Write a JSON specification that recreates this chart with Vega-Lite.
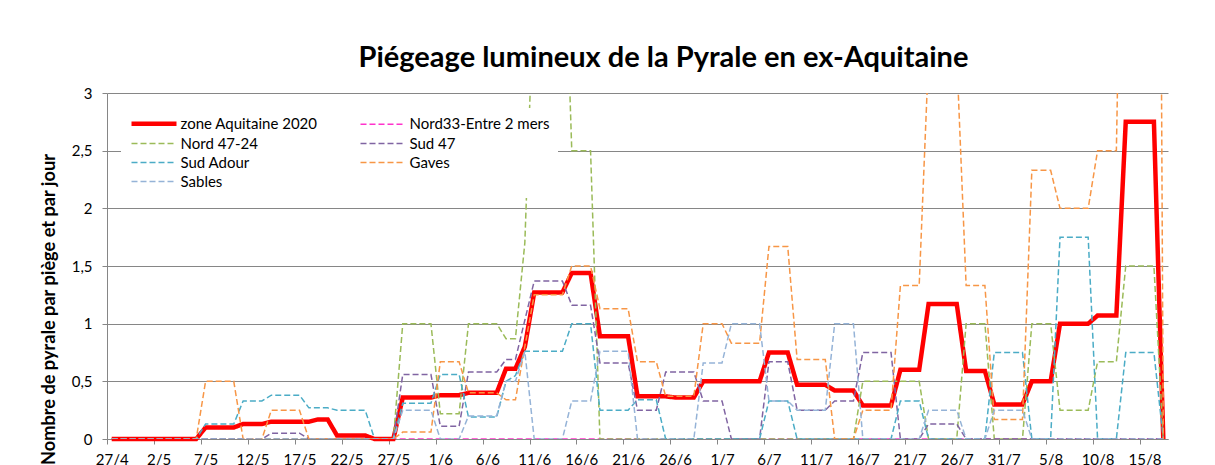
{
  "$schema": "https://vega.github.io/schema/vega-lite/v6.json",
  "width": 1061,
  "height": 346,
  "autosize": {"type": "none"},
  "padding": {"left": 107, "top": 93, "right": 47, "bottom": 26},
  "background": "white",
  "title": {"text": "Piégeage lumineux de la Pyrale en ex-Aquitaine", "font": "Lato", "fontSize": 29, "fontWeight": "bold", "color": "#000000", "anchor": "middle", "dx": 26, "offset": 13},
  "config": {
    "view": {"stroke": null},
    "font": "Lato",
    "axis": {"labelFont": "Lato", "labelFontSize": 15, "labelColor": "#000000", "domainColor": "#868686", "tickColor": "#868686", "gridColor": "#868686", "gridOpacity": 1}
  },
  "data": {"values": [
    {"serie": "zone Aquitaine 2020", "date": "2020-04-27", "val": 0},
    {"serie": "zone Aquitaine 2020", "date": "2020-05-06", "val": 0},
    {"serie": "zone Aquitaine 2020", "date": "2020-05-07", "val": 0.1},
    {"serie": "zone Aquitaine 2020", "date": "2020-05-10", "val": 0.1},
    {"serie": "zone Aquitaine 2020", "date": "2020-05-11", "val": 0.13},
    {"serie": "zone Aquitaine 2020", "date": "2020-05-13", "val": 0.13},
    {"serie": "zone Aquitaine 2020", "date": "2020-05-14", "val": 0.15},
    {"serie": "zone Aquitaine 2020", "date": "2020-05-18", "val": 0.15},
    {"serie": "zone Aquitaine 2020", "date": "2020-05-19", "val": 0.17},
    {"serie": "zone Aquitaine 2020", "date": "2020-05-20", "val": 0.17},
    {"serie": "zone Aquitaine 2020", "date": "2020-05-21", "val": 0.03},
    {"serie": "zone Aquitaine 2020", "date": "2020-05-24", "val": 0.03},
    {"serie": "zone Aquitaine 2020", "date": "2020-05-25", "val": 0},
    {"serie": "zone Aquitaine 2020", "date": "2020-05-27", "val": 0},
    {"serie": "zone Aquitaine 2020", "date": "2020-05-28", "val": 0.36},
    {"serie": "zone Aquitaine 2020", "date": "2020-05-31", "val": 0.36},
    {"serie": "zone Aquitaine 2020", "date": "2020-06-01", "val": 0.38},
    {"serie": "zone Aquitaine 2020", "date": "2020-06-03", "val": 0.38},
    {"serie": "zone Aquitaine 2020", "date": "2020-06-04", "val": 0.4},
    {"serie": "zone Aquitaine 2020", "date": "2020-06-07", "val": 0.4},
    {"serie": "zone Aquitaine 2020", "date": "2020-06-08", "val": 0.61},
    {"serie": "zone Aquitaine 2020", "date": "2020-06-09", "val": 0.61},
    {"serie": "zone Aquitaine 2020", "date": "2020-06-10", "val": 0.8},
    {"serie": "zone Aquitaine 2020", "date": "2020-06-11", "val": 1.27},
    {"serie": "zone Aquitaine 2020", "date": "2020-06-14", "val": 1.27},
    {"serie": "zone Aquitaine 2020", "date": "2020-06-15", "val": 1.44},
    {"serie": "zone Aquitaine 2020", "date": "2020-06-17", "val": 1.44},
    {"serie": "zone Aquitaine 2020", "date": "2020-06-18", "val": 0.89},
    {"serie": "zone Aquitaine 2020", "date": "2020-06-21", "val": 0.89},
    {"serie": "zone Aquitaine 2020", "date": "2020-06-22", "val": 0.37},
    {"serie": "zone Aquitaine 2020", "date": "2020-06-25", "val": 0.37},
    {"serie": "zone Aquitaine 2020", "date": "2020-06-26", "val": 0.36},
    {"serie": "zone Aquitaine 2020", "date": "2020-06-28", "val": 0.36},
    {"serie": "zone Aquitaine 2020", "date": "2020-06-29", "val": 0.5},
    {"serie": "zone Aquitaine 2020", "date": "2020-07-05", "val": 0.5},
    {"serie": "zone Aquitaine 2020", "date": "2020-07-06", "val": 0.75},
    {"serie": "zone Aquitaine 2020", "date": "2020-07-08", "val": 0.75},
    {"serie": "zone Aquitaine 2020", "date": "2020-07-09", "val": 0.47},
    {"serie": "zone Aquitaine 2020", "date": "2020-07-12", "val": 0.47},
    {"serie": "zone Aquitaine 2020", "date": "2020-07-13", "val": 0.42},
    {"serie": "zone Aquitaine 2020", "date": "2020-07-15", "val": 0.42},
    {"serie": "zone Aquitaine 2020", "date": "2020-07-16", "val": 0.29},
    {"serie": "zone Aquitaine 2020", "date": "2020-07-19", "val": 0.29},
    {"serie": "zone Aquitaine 2020", "date": "2020-07-20", "val": 0.6},
    {"serie": "zone Aquitaine 2020", "date": "2020-07-22", "val": 0.6},
    {"serie": "zone Aquitaine 2020", "date": "2020-07-23", "val": 1.17},
    {"serie": "zone Aquitaine 2020", "date": "2020-07-26", "val": 1.17},
    {"serie": "zone Aquitaine 2020", "date": "2020-07-27", "val": 0.59},
    {"serie": "zone Aquitaine 2020", "date": "2020-07-29", "val": 0.59},
    {"serie": "zone Aquitaine 2020", "date": "2020-07-30", "val": 0.3},
    {"serie": "zone Aquitaine 2020", "date": "2020-08-02", "val": 0.3},
    {"serie": "zone Aquitaine 2020", "date": "2020-08-03", "val": 0.5},
    {"serie": "zone Aquitaine 2020", "date": "2020-08-05", "val": 0.5},
    {"serie": "zone Aquitaine 2020", "date": "2020-08-06", "val": 1},
    {"serie": "zone Aquitaine 2020", "date": "2020-08-09", "val": 1},
    {"serie": "zone Aquitaine 2020", "date": "2020-08-10", "val": 1.07},
    {"serie": "zone Aquitaine 2020", "date": "2020-08-12", "val": 1.07},
    {"serie": "zone Aquitaine 2020", "date": "2020-08-13", "val": 2.75},
    {"serie": "zone Aquitaine 2020", "date": "2020-08-16", "val": 2.75},
    {"serie": "zone Aquitaine 2020", "date": "2020-08-17", "val": 0},

    {"serie": "Nord33-Entre 2 mers", "date": "2020-04-27", "val": 0},
    {"serie": "Nord33-Entre 2 mers", "date": "2020-08-17", "val": 0},

    {"serie": "Nord 47-24", "date": "2020-04-27", "val": 0},
    {"serie": "Nord 47-24", "date": "2020-05-27", "val": 0},
    {"serie": "Nord 47-24", "date": "2020-05-28", "val": 1},
    {"serie": "Nord 47-24", "date": "2020-05-31", "val": 1},
    {"serie": "Nord 47-24", "date": "2020-06-01", "val": 0.22},
    {"serie": "Nord 47-24", "date": "2020-06-03", "val": 0.22},
    {"serie": "Nord 47-24", "date": "2020-06-04", "val": 1},
    {"serie": "Nord 47-24", "date": "2020-06-07", "val": 1},
    {"serie": "Nord 47-24", "date": "2020-06-08", "val": 0.87},
    {"serie": "Nord 47-24", "date": "2020-06-09", "val": 0.87},
    {"serie": "Nord 47-24", "date": "2020-06-10", "val": 1.7},
    {"serie": "Nord 47-24", "date": "2020-06-11", "val": 4},
    {"serie": "Nord 47-24", "date": "2020-06-14", "val": 5},
    {"serie": "Nord 47-24", "date": "2020-06-15", "val": 2.5},
    {"serie": "Nord 47-24", "date": "2020-06-17", "val": 2.5},
    {"serie": "Nord 47-24", "date": "2020-06-18", "val": 0},
    {"serie": "Nord 47-24", "date": "2020-07-15", "val": 0},
    {"serie": "Nord 47-24", "date": "2020-07-16", "val": 0.5},
    {"serie": "Nord 47-24", "date": "2020-07-22", "val": 0.5},
    {"serie": "Nord 47-24", "date": "2020-07-23", "val": 0},
    {"serie": "Nord 47-24", "date": "2020-07-26", "val": 0},
    {"serie": "Nord 47-24", "date": "2020-07-27", "val": 1},
    {"serie": "Nord 47-24", "date": "2020-07-29", "val": 1},
    {"serie": "Nord 47-24", "date": "2020-07-30", "val": 0},
    {"serie": "Nord 47-24", "date": "2020-08-02", "val": 0},
    {"serie": "Nord 47-24", "date": "2020-08-03", "val": 1},
    {"serie": "Nord 47-24", "date": "2020-08-05", "val": 1},
    {"serie": "Nord 47-24", "date": "2020-08-06", "val": 0.25},
    {"serie": "Nord 47-24", "date": "2020-08-09", "val": 0.25},
    {"serie": "Nord 47-24", "date": "2020-08-10", "val": 0.67},
    {"serie": "Nord 47-24", "date": "2020-08-12", "val": 0.67},
    {"serie": "Nord 47-24", "date": "2020-08-13", "val": 1.5},
    {"serie": "Nord 47-24", "date": "2020-08-16", "val": 1.5},
    {"serie": "Nord 47-24", "date": "2020-08-17", "val": 0},

    {"serie": "Sud 47", "date": "2020-04-27", "val": 0},
    {"serie": "Sud 47", "date": "2020-05-13", "val": 0},
    {"serie": "Sud 47", "date": "2020-05-14", "val": 0.05},
    {"serie": "Sud 47", "date": "2020-05-17", "val": 0.05},
    {"serie": "Sud 47", "date": "2020-05-18", "val": 0},
    {"serie": "Sud 47", "date": "2020-05-27", "val": 0},
    {"serie": "Sud 47", "date": "2020-05-28", "val": 0.56},
    {"serie": "Sud 47", "date": "2020-05-31", "val": 0.56},
    {"serie": "Sud 47", "date": "2020-06-01", "val": 0.11},
    {"serie": "Sud 47", "date": "2020-06-03", "val": 0.11},
    {"serie": "Sud 47", "date": "2020-06-04", "val": 0.58},
    {"serie": "Sud 47", "date": "2020-06-07", "val": 0.58},
    {"serie": "Sud 47", "date": "2020-06-08", "val": 0.69},
    {"serie": "Sud 47", "date": "2020-06-09", "val": 0.69},
    {"serie": "Sud 47", "date": "2020-06-10", "val": 1.03},
    {"serie": "Sud 47", "date": "2020-06-11", "val": 1.37},
    {"serie": "Sud 47", "date": "2020-06-14", "val": 1.37},
    {"serie": "Sud 47", "date": "2020-06-15", "val": 1.16},
    {"serie": "Sud 47", "date": "2020-06-17", "val": 1.16},
    {"serie": "Sud 47", "date": "2020-06-18", "val": 0.66},
    {"serie": "Sud 47", "date": "2020-06-21", "val": 0.66},
    {"serie": "Sud 47", "date": "2020-06-22", "val": 0.25},
    {"serie": "Sud 47", "date": "2020-06-24", "val": 0.25},
    {"serie": "Sud 47", "date": "2020-06-25", "val": 0.58},
    {"serie": "Sud 47", "date": "2020-06-28", "val": 0.58},
    {"serie": "Sud 47", "date": "2020-06-29", "val": 0.33},
    {"serie": "Sud 47", "date": "2020-07-01", "val": 0.33},
    {"serie": "Sud 47", "date": "2020-07-02", "val": 0},
    {"serie": "Sud 47", "date": "2020-07-05", "val": 0},
    {"serie": "Sud 47", "date": "2020-07-06", "val": 0.67},
    {"serie": "Sud 47", "date": "2020-07-08", "val": 0.67},
    {"serie": "Sud 47", "date": "2020-07-09", "val": 0.25},
    {"serie": "Sud 47", "date": "2020-07-12", "val": 0.25},
    {"serie": "Sud 47", "date": "2020-07-13", "val": 0.33},
    {"serie": "Sud 47", "date": "2020-07-15", "val": 0.33},
    {"serie": "Sud 47", "date": "2020-07-16", "val": 0.75},
    {"serie": "Sud 47", "date": "2020-07-19", "val": 0.75},
    {"serie": "Sud 47", "date": "2020-07-20", "val": 0},
    {"serie": "Sud 47", "date": "2020-07-22", "val": 0},
    {"serie": "Sud 47", "date": "2020-07-23", "val": 0.13},
    {"serie": "Sud 47", "date": "2020-07-26", "val": 0.13},
    {"serie": "Sud 47", "date": "2020-07-27", "val": 0},
    {"serie": "Sud 47", "date": "2020-08-17", "val": 0},

    {"serie": "Sud Adour", "date": "2020-04-27", "val": 0},
    {"serie": "Sud Adour", "date": "2020-05-06", "val": 0},
    {"serie": "Sud Adour", "date": "2020-05-07", "val": 0.13},
    {"serie": "Sud Adour", "date": "2020-05-10", "val": 0.13},
    {"serie": "Sud Adour", "date": "2020-05-11", "val": 0.33},
    {"serie": "Sud Adour", "date": "2020-05-13", "val": 0.33},
    {"serie": "Sud Adour", "date": "2020-05-14", "val": 0.38},
    {"serie": "Sud Adour", "date": "2020-05-17", "val": 0.38},
    {"serie": "Sud Adour", "date": "2020-05-18", "val": 0.27},
    {"serie": "Sud Adour", "date": "2020-05-20", "val": 0.27},
    {"serie": "Sud Adour", "date": "2020-05-21", "val": 0.25},
    {"serie": "Sud Adour", "date": "2020-05-24", "val": 0.25},
    {"serie": "Sud Adour", "date": "2020-05-25", "val": 0},
    {"serie": "Sud Adour", "date": "2020-05-27", "val": 0},
    {"serie": "Sud Adour", "date": "2020-05-28", "val": 0.31},
    {"serie": "Sud Adour", "date": "2020-05-31", "val": 0.31},
    {"serie": "Sud Adour", "date": "2020-06-01", "val": 0.56},
    {"serie": "Sud Adour", "date": "2020-06-03", "val": 0.56},
    {"serie": "Sud Adour", "date": "2020-06-04", "val": 0.19},
    {"serie": "Sud Adour", "date": "2020-06-07", "val": 0.19},
    {"serie": "Sud Adour", "date": "2020-06-08", "val": 0.5},
    {"serie": "Sud Adour", "date": "2020-06-09", "val": 0.55},
    {"serie": "Sud Adour", "date": "2020-06-10", "val": 0.76},
    {"serie": "Sud Adour", "date": "2020-06-14", "val": 0.76},
    {"serie": "Sud Adour", "date": "2020-06-15", "val": 1},
    {"serie": "Sud Adour", "date": "2020-06-17", "val": 1},
    {"serie": "Sud Adour", "date": "2020-06-18", "val": 0.25},
    {"serie": "Sud Adour", "date": "2020-06-21", "val": 0.25},
    {"serie": "Sud Adour", "date": "2020-06-22", "val": 0.34},
    {"serie": "Sud Adour", "date": "2020-06-24", "val": 0.34},
    {"serie": "Sud Adour", "date": "2020-06-25", "val": 0},
    {"serie": "Sud Adour", "date": "2020-07-05", "val": 0},
    {"serie": "Sud Adour", "date": "2020-07-06", "val": 0.33},
    {"serie": "Sud Adour", "date": "2020-07-08", "val": 0.33},
    {"serie": "Sud Adour", "date": "2020-07-09", "val": 0},
    {"serie": "Sud Adour", "date": "2020-07-19", "val": 0},
    {"serie": "Sud Adour", "date": "2020-07-20", "val": 0.33},
    {"serie": "Sud Adour", "date": "2020-07-22", "val": 0.33},
    {"serie": "Sud Adour", "date": "2020-07-23", "val": 0},
    {"serie": "Sud Adour", "date": "2020-07-29", "val": 0},
    {"serie": "Sud Adour", "date": "2020-07-30", "val": 0.75},
    {"serie": "Sud Adour", "date": "2020-08-02", "val": 0.75},
    {"serie": "Sud Adour", "date": "2020-08-03", "val": 0},
    {"serie": "Sud Adour", "date": "2020-08-05", "val": 0},
    {"serie": "Sud Adour", "date": "2020-08-06", "val": 1.75},
    {"serie": "Sud Adour", "date": "2020-08-09", "val": 1.75},
    {"serie": "Sud Adour", "date": "2020-08-10", "val": 0},
    {"serie": "Sud Adour", "date": "2020-08-12", "val": 0},
    {"serie": "Sud Adour", "date": "2020-08-13", "val": 0.75},
    {"serie": "Sud Adour", "date": "2020-08-16", "val": 0.75},
    {"serie": "Sud Adour", "date": "2020-08-17", "val": 0},

    {"serie": "Gaves", "date": "2020-04-27", "val": 0},
    {"serie": "Gaves", "date": "2020-05-06", "val": 0},
    {"serie": "Gaves", "date": "2020-05-07", "val": 0.5},
    {"serie": "Gaves", "date": "2020-05-10", "val": 0.5},
    {"serie": "Gaves", "date": "2020-05-11", "val": 0},
    {"serie": "Gaves", "date": "2020-05-13", "val": 0},
    {"serie": "Gaves", "date": "2020-05-14", "val": 0.25},
    {"serie": "Gaves", "date": "2020-05-17", "val": 0.25},
    {"serie": "Gaves", "date": "2020-05-18", "val": 0},
    {"serie": "Gaves", "date": "2020-05-27", "val": 0},
    {"serie": "Gaves", "date": "2020-05-28", "val": 0.06},
    {"serie": "Gaves", "date": "2020-05-31", "val": 0.06},
    {"serie": "Gaves", "date": "2020-06-01", "val": 0.67},
    {"serie": "Gaves", "date": "2020-06-03", "val": 0.67},
    {"serie": "Gaves", "date": "2020-06-04", "val": 0.4},
    {"serie": "Gaves", "date": "2020-06-07", "val": 0.4},
    {"serie": "Gaves", "date": "2020-06-08", "val": 0.34},
    {"serie": "Gaves", "date": "2020-06-09", "val": 0.34},
    {"serie": "Gaves", "date": "2020-06-10", "val": 0.8},
    {"serie": "Gaves", "date": "2020-06-11", "val": 1.25},
    {"serie": "Gaves", "date": "2020-06-14", "val": 1.25},
    {"serie": "Gaves", "date": "2020-06-15", "val": 1.5},
    {"serie": "Gaves", "date": "2020-06-17", "val": 1.5},
    {"serie": "Gaves", "date": "2020-06-18", "val": 1.13},
    {"serie": "Gaves", "date": "2020-06-21", "val": 1.13},
    {"serie": "Gaves", "date": "2020-06-22", "val": 0.67},
    {"serie": "Gaves", "date": "2020-06-24", "val": 0.67},
    {"serie": "Gaves", "date": "2020-06-25", "val": 0.37},
    {"serie": "Gaves", "date": "2020-06-28", "val": 0.37},
    {"serie": "Gaves", "date": "2020-06-29", "val": 1},
    {"serie": "Gaves", "date": "2020-07-01", "val": 1},
    {"serie": "Gaves", "date": "2020-07-02", "val": 0.83},
    {"serie": "Gaves", "date": "2020-07-05", "val": 0.83},
    {"serie": "Gaves", "date": "2020-07-06", "val": 1.67},
    {"serie": "Gaves", "date": "2020-07-08", "val": 1.67},
    {"serie": "Gaves", "date": "2020-07-09", "val": 0.69},
    {"serie": "Gaves", "date": "2020-07-12", "val": 0.69},
    {"serie": "Gaves", "date": "2020-07-13", "val": 0},
    {"serie": "Gaves", "date": "2020-07-15", "val": 0},
    {"serie": "Gaves", "date": "2020-07-16", "val": 0.25},
    {"serie": "Gaves", "date": "2020-07-19", "val": 0.25},
    {"serie": "Gaves", "date": "2020-07-20", "val": 1.33},
    {"serie": "Gaves", "date": "2020-07-22", "val": 1.33},
    {"serie": "Gaves", "date": "2020-07-23", "val": 3.33},
    {"serie": "Gaves", "date": "2020-07-26", "val": 3.33},
    {"serie": "Gaves", "date": "2020-07-27", "val": 1.33},
    {"serie": "Gaves", "date": "2020-07-29", "val": 1.33},
    {"serie": "Gaves", "date": "2020-07-30", "val": 0.17},
    {"serie": "Gaves", "date": "2020-08-02", "val": 0.17},
    {"serie": "Gaves", "date": "2020-08-03", "val": 2.33},
    {"serie": "Gaves", "date": "2020-08-05", "val": 2.33},
    {"serie": "Gaves", "date": "2020-08-06", "val": 2},
    {"serie": "Gaves", "date": "2020-08-09", "val": 2},
    {"serie": "Gaves", "date": "2020-08-10", "val": 2.5},
    {"serie": "Gaves", "date": "2020-08-12", "val": 2.5},
    {"serie": "Gaves", "date": "2020-08-13", "val": 7},
    {"serie": "Gaves", "date": "2020-08-16", "val": 16},
    {"serie": "Gaves", "date": "2020-08-17", "val": 0},

    {"serie": "Sables", "date": "2020-04-27", "val": 0},
    {"serie": "Sables", "date": "2020-05-27", "val": 0},
    {"serie": "Sables", "date": "2020-05-28", "val": 0.25},
    {"serie": "Sables", "date": "2020-05-31", "val": 0.25},
    {"serie": "Sables", "date": "2020-06-01", "val": 0},
    {"serie": "Sables", "date": "2020-06-03", "val": 0},
    {"serie": "Sables", "date": "2020-06-04", "val": 0.2},
    {"serie": "Sables", "date": "2020-06-07", "val": 0.2},
    {"serie": "Sables", "date": "2020-06-08", "val": 0.5},
    {"serie": "Sables", "date": "2020-06-09", "val": 0.5},
    {"serie": "Sables", "date": "2020-06-10", "val": 0.76},
    {"serie": "Sables", "date": "2020-06-11", "val": 0},
    {"serie": "Sables", "date": "2020-06-14", "val": 0},
    {"serie": "Sables", "date": "2020-06-15", "val": 0.33},
    {"serie": "Sables", "date": "2020-06-17", "val": 0.33},
    {"serie": "Sables", "date": "2020-06-18", "val": 0.76},
    {"serie": "Sables", "date": "2020-06-21", "val": 0.76},
    {"serie": "Sables", "date": "2020-06-22", "val": 0},
    {"serie": "Sables", "date": "2020-06-28", "val": 0},
    {"serie": "Sables", "date": "2020-06-29", "val": 0.66},
    {"serie": "Sables", "date": "2020-07-01", "val": 0.66},
    {"serie": "Sables", "date": "2020-07-02", "val": 1},
    {"serie": "Sables", "date": "2020-07-05", "val": 1},
    {"serie": "Sables", "date": "2020-07-06", "val": 0.33},
    {"serie": "Sables", "date": "2020-07-08", "val": 0.33},
    {"serie": "Sables", "date": "2020-07-09", "val": 0.25},
    {"serie": "Sables", "date": "2020-07-12", "val": 0.25},
    {"serie": "Sables", "date": "2020-07-13", "val": 1},
    {"serie": "Sables", "date": "2020-07-15", "val": 1},
    {"serie": "Sables", "date": "2020-07-16", "val": 0},
    {"serie": "Sables", "date": "2020-07-22", "val": 0},
    {"serie": "Sables", "date": "2020-07-23", "val": 0.25},
    {"serie": "Sables", "date": "2020-07-26", "val": 0.25},
    {"serie": "Sables", "date": "2020-07-27", "val": 0},
    {"serie": "Sables", "date": "2020-07-29", "val": 0},
    {"serie": "Sables", "date": "2020-07-30", "val": 0.25},
    {"serie": "Sables", "date": "2020-08-02", "val": 0.25},
    {"serie": "Sables", "date": "2020-08-03", "val": 0},
    {"serie": "Sables", "date": "2020-08-17", "val": 0}
  ]},
  "encoding": {
    "x": {
      "field": "date", "type": "temporal",
      "scale": {"type": "utc", "domain": [1587902400000, 1597665600000], "nice": false},
      "axis": {
        "title": null, "grid": false,
        "values": [1587902400000, 1588334400000, 1588766400000, 1589198400000, 1589630400000, 1590062400000, 1590494400000, 1590926400000, 1591358400000, 1591790400000, 1592222400000, 1592654400000, 1593086400000, 1593518400000, 1593950400000, 1594382400000, 1594814400000, 1595246400000, 1595678400000, 1596110400000, 1596542400000, 1596974400000, 1597406400000],
        "labelExpr": "utcFormat(time(datum.value) + 43200000, '%-d/%-m')",
        "labelOffset": 4.7, "labelAngle": 0, "labelOverlap": false, "labelFlush": false,
        "tickSize": 5, "labelPadding": 8
      }
    },
    "y": {
      "field": "val", "type": "quantitative",
      "scale": {"domain": [0, 3], "nice": false},
      "axis": {
        "values": [0, 0.5, 1, 1.5, 2, 2.5, 3],
        "labelExpr": "replace(format(datum.value, '~g'), '.', ',')",
        "tickSize": 5, "labelPadding": 10, "grid": true, "gridWidth": 1,
        "title": "Nombre de pyrale par piège et par jour",
        "titleFont": "Lato", "titleFontSize": 18.2, "titleFontWeight": "bold", "titleColor": "#000000",
        "titleX": -58, "titleY": 216, "titleBaseline": "middle", "titleAlign": "center", "titleAngle": -90
      }
    },
    "color": {
      "field": "serie", "type": "nominal",
      "scale": {
        "domain": ["zone Aquitaine 2020", "Nord33-Entre 2 mers", "Nord 47-24", "Sud 47", "Sud Adour", "Gaves", "Sables"],
        "range": ["#FF0000", "#FF33CC", "#9BBB59", "#8064A2", "#4BACC6", "#F79646", "#95B3D7"]
      },
      "legend": {
        "orient": "none", "legendX": 14, "legendY": 15, "columns": 2, "direction": "horizontal", "title": null,
        "symbolType": "M-4.5,0H4.5", "symbolSize": 100, "symbolOffset": 17.5,
        "labelFont": "Lato", "labelFontSize": 15, "labelColor": "#000000", "labelOffset": 19,
        "columnPadding": 39, "rowPadding": 3, "padding": 8, "fillColor": "white"
      }
    },
    "strokeDash": {
      "field": "serie", "type": "nominal",
      "scale": {
        "domain": ["zone Aquitaine 2020", "Nord33-Entre 2 mers", "Nord 47-24", "Sud 47", "Sud Adour", "Gaves", "Sables"],
        "range": [[1, 0], [6, 3], [6, 3], [6, 3], [6, 3], [6, 3], [6, 3]]
      }
    },
    "strokeWidth": {
      "field": "serie", "type": "nominal",
      "scale": {
        "type": "ordinal",
        "domain": ["zone Aquitaine 2020", "Nord33-Entre 2 mers", "Nord 47-24", "Sud 47", "Sud Adour", "Gaves", "Sables"],
        "range": [4.5, 1.5, 1.5, 1.5, 1.5, 1.5, 1.5]
      }
    }
  },
  "layer": [
    {"transform": [{"filter": "datum.serie == 'zone Aquitaine 2020'"}], "mark": {"type": "line", "clip": false}},
    {"transform": [{"filter": "datum.serie != 'zone Aquitaine 2020'"}], "mark": {"type": "line", "clip": true}}
  ]
}
